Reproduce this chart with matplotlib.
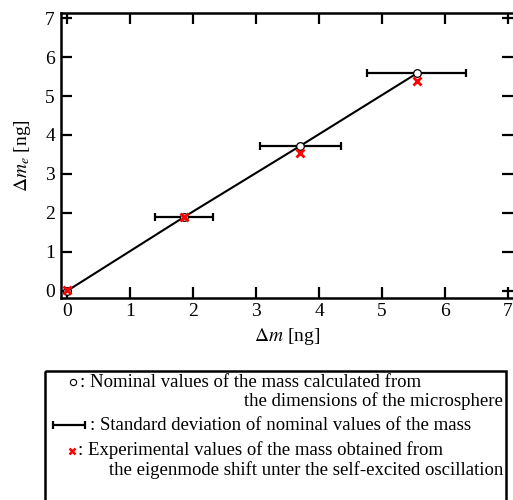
import matplotlib.pyplot as plt
from matplotlib.patches import Rectangle

plt.rcParams['font.family'] = ['Liberation Serif', 'DejaVu Serif']
plt.rcParams['mathtext.fontset'] = 'stix'

# nominal mass from microsphere dimensions
dm_nominal = [0.0, 1.85, 3.70, 5.55]
dme_nominal = [0.0, 1.89, 3.72, 5.58]
dm_std = [0.0, 0.46, 0.645, 0.79]
# experimental mass from eigenmode shift
dme_exp = [0.02, 1.88, 3.53, 5.38]

ticks = [0, 1, 2, 3, 4, 5, 6, 7]

fig = plt.figure(figsize=(5.13, 5.0), dpi=100)
ax = fig.add_axes([0.118, 0.4046, 0.882, 0.57])

ax.plot(dm_nominal, dme_nominal, '-', color='black', lw=1.5, zorder=2)
ax.errorbar(dm_nominal[1:], dme_nominal[1:], xerr=dm_std[1:], fmt='none',
            ecolor='black', elinewidth=1.6, capsize=3, capthick=1.6, zorder=3)
ax.plot(dm_nominal, dme_nominal, 'o', mfc='white', mec='black', ms=5.5, mew=0.9, zorder=4)
ax.plot(dm_nominal, dme_exp, 'x', color='red', ms=6, mew=2.0, zorder=5)

ax.set_xlim(-0.11, 7.08)
ax.set_ylim(-0.18, 7.14)
ax.set_xticks(ticks)
ax.set_yticks(ticks)
ax.tick_params(direction='in', length=8, width=1.6, top=True, right=True,
               labelsize=14, pad=4)
for s in ['left', 'bottom', 'top']:
    ax.spines[s].set_linewidth(1.8)
ax.spines['right'].set_visible(False)
ax.set_xlabel(r'$\Delta m$ [ng]', fontsize=14, labelpad=4)
ax.set_ylabel(r'$\Delta m_e$ [ng]', fontsize=14, labelpad=9)

# legend box drawn in pixel coordinates
lax = fig.add_axes([0, 0, 1, 1])
lax.set_xlim(0, 513)
lax.set_ylim(500, 0)
lax.axis('off')
lax.add_patch(Rectangle((45, 371), 461, 140, fill=False, lw=1.8, ec='black', clip_on=False))
fs = 13.5
lax.plot([73], [382], 'o', mfc='white', mec='black', ms=4.5, mew=0.8)
lax.text(80, 387, ': Nominal values of the mass calculated from', fontsize=fs, va='baseline')
lax.text(503, 406, 'the dimensions of the microsphere', fontsize=fs, va='baseline', ha='right')
lax.errorbar([69], [425], xerr=[16], fmt='none', ecolor='black', elinewidth=1.6,
             capsize=3, capthick=1.6)
lax.text(90, 430, ': Standard deviation of nominal values of the mass', fontsize=fs, va='baseline')
lax.plot([72], [451], 'x', color='red', ms=4.5, mew=1.8)
lax.text(78, 455, ': Experimental values of the mass obtained from', fontsize=fs, va='baseline')
lax.text(503, 475, 'the eigenmode shift unter the self-excited oscillation', fontsize=fs,
         va='baseline', ha='right')

fig.savefig('out.png', dpi=100)
